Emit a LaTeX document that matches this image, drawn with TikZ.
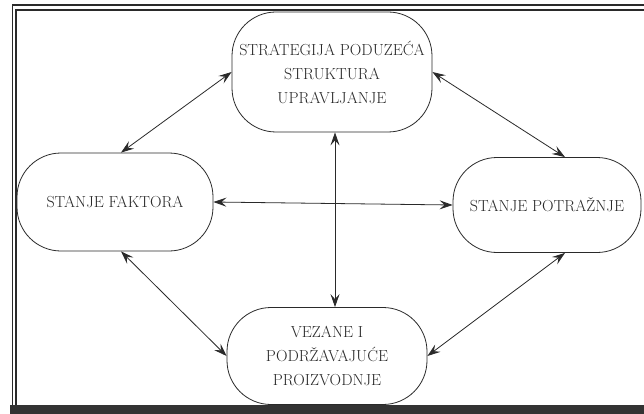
\documentclass[tikz,border=0pt]{standalone}
\usepackage{fontspec}
\usetikzlibrary{arrows.meta}
\definecolor{ink}{HTML}{2A2A2A}
\definecolor{band}{HTML}{333333}
\begin{document}
\begin{tikzpicture}[x=1pt,y=-1pt,
  box/.style={draw=ink,line width=0.8pt,rounded corners=44pt,inner sep=0pt,
    align=center,text=ink,font=\fontsize{16}{24}\selectfont},
  link/.style={draw=ink,line width=0.8pt,
    {Stealth[length=13pt,width=9pt,inset=5pt]}-{Stealth[length=13pt,width=9pt,inset=5pt]}},
  frame/.style={draw=ink,line width=1.1pt}]
\useasboundingbox (0,0) rectangle (644,414);
\fill[white] (0,0) rectangle (644,414);
% frame
\draw[frame] (12.5,409) -- (12.5,5) -- (644,5);
\draw[frame] (16,405) -- (16,10) -- (644,10);
\fill[band] (10,405) rectangle (644,414);
% nodes
\node[box,minimum width=200pt,minimum height=120pt] (T) at (332,72)
  {STRATEGIJA PODUZEĆA\\STRUKTURA\\UPRAVLJANJE};
\node[box,minimum width=196pt,minimum height=98pt] (L) at (115,202)
  {STANJE FAKTORA};
\node[box,minimum width=188pt,minimum height=95pt] (R) at (547,205)
  {STANJE POTRAŽNJE};
\node[box,minimum width=200pt,minimum height=97pt] (B) at (327,356)
  {VEZANE I\\PODRŽAVAJUĆE\\PROIZVODNJE};
% connectors
\draw[link] ([xshift=6pt]L.north) -- (T.west);
\draw[link] (T.east) -- ([xshift=18pt]R.north);
\draw[link] ([xshift=6pt]L.south) -- (B.west);
\draw[link] ([xshift=18pt]R.south) -- (B.east);
\draw[link] (L.east) -- (R.west);
\draw[link] ([xshift=3pt]T.south) -- ([xshift=8pt]B.north);
\end{tikzpicture}
\end{document}
